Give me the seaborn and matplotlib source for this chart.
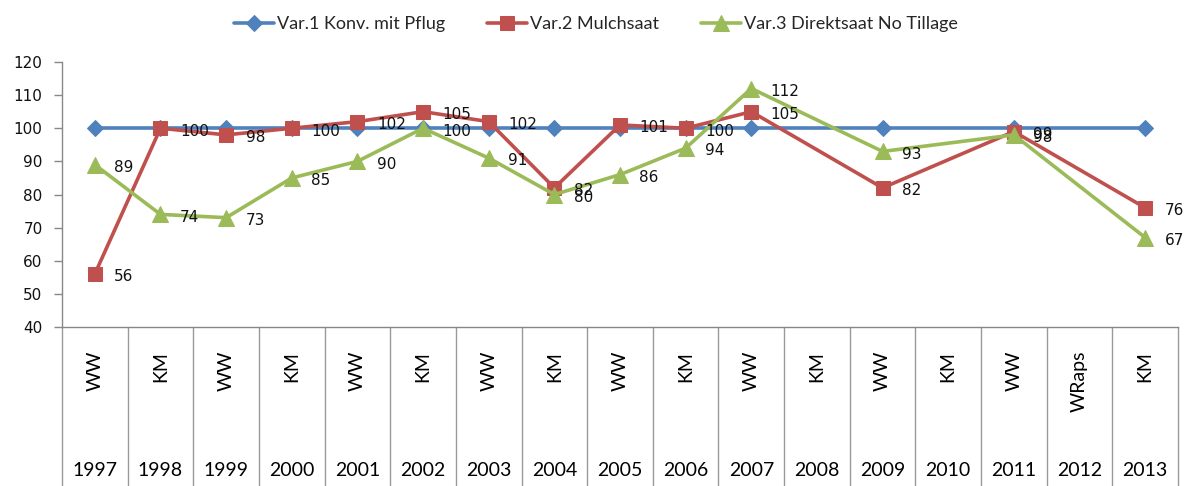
import numpy as np
import pandas as pd
import matplotlib
matplotlib.use("Agg")
import matplotlib.pyplot as plt
import seaborn as sns

years = list(range(1997, 2014))
crops = ["WW", "KM", "WW", "KM", "WW", "KM", "WW", "KM", "WW", "KM",
         "WW", "KM", "WW", "KM", "WW", "WRaps", "KM"]

# None = no value for that year (line is joined across the gap)
var1 = [100, 100, 100, 100, 100, 100, 100, 100, 100, 100, 100, None, 100, None, 100, None, 100]
var2 = [56, 100, 98, 100, 102, 105, 102, 82, 101, 100, 105, None, 82, None, 99, None, 76]
var3 = [89, 74, 73, 85, 90, 100, 91, 80, 86, 94, 112, None, 93, None, 98, None, 67]

names = ["Var.1 Konv. mit Pflug", "Var.2 Mulchsaat", "Var.3 Direktsaat No Tillage"]
colors = ["#4F81BD", "#C0504D", "#9BBB59"]
markers = ["D", "s", "^"]
msizes = [8, 10, 11]
show_labels = [False, True, True]

sns.set_style("white")
plt.rcParams["font.family"] = ["DejaVu Sans"]

fig = plt.figure(figsize=(11.92, 4.86), dpi=100)
ax = fig.add_axes([62 / 1192, (486 - 327) / 486, (1178 - 62) / 1192, (327 - 62) / 486])

for name, vals, col, mk, ms, lab in zip(names, [var1, var2, var3], colors, markers, msizes, show_labels):
    df = pd.DataFrame({"year": years, "value": vals}).dropna()
    sns.lineplot(data=df, x="year", y="value", ax=ax, color=col, marker=mk,
                 markersize=ms, markeredgecolor=col, linewidth=2.6, label=name)
    if lab:
        for x, y in zip(df["year"], df["value"]):
            ax.annotate(f"{int(y)}", (x, y), xytext=(14, -2), textcoords="offset points",
                        ha="left", va="center", fontsize=11, color="#111111")

ax.set_xlim(1996.5, 2013.5)
ax.set_ylim(40, 120)
ax.set_yticks(range(40, 121, 10))
ax.set_xticks([])
ax.set_xlabel("")
ax.set_ylabel("")
ax.tick_params(axis="y", length=6, width=1, color="#888888", left=True, labelsize=11,
               labelcolor="#111111", pad=8)
for s in ["top", "right"]:
    ax.spines[s].set_visible(False)
for s in ["left", "bottom"]:
    ax.spines[s].set_color("#888888")
    ax.spines[s].set_linewidth(1)

# category table below the axis
trans = ax.get_xaxis_transform()
for b in np.arange(1996.5, 2014.0, 1.0):
    ax.plot([b, b], [0, -0.62], transform=trans, color="#999999", lw=1, clip_on=False)
for yr, cr in zip(years, crops):
    ax.text(yr, -0.09, cr, transform=trans, rotation=90, ha="center", va="top",
            fontsize=14, family="Lato", color="black")
    ax.text(yr, -0.54, str(yr), transform=trans, ha="center", va="center",
            fontsize=14, family="Lato", color="black")

leg = ax.legend(loc="center", bbox_to_anchor=(0.4785, 1.143), ncol=3, frameon=False,
                prop={"family": "Lato", "size": 13}, handlelength=2.2,
                columnspacing=2.3, handletextpad=0.2)

fig.savefig("out.png", dpi=100)
